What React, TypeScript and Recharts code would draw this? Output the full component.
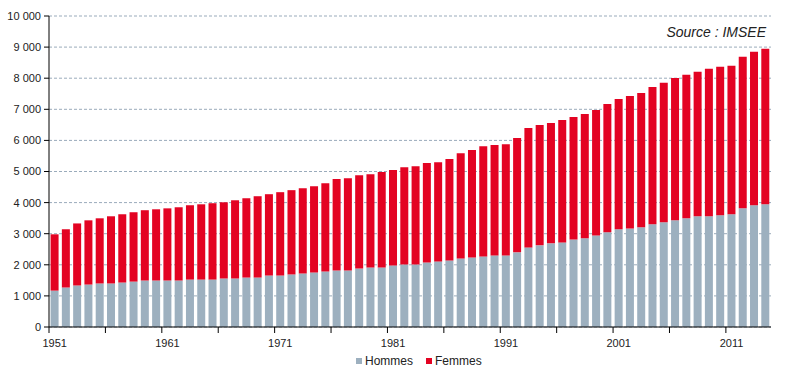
import { Bar, BarChart, CartesianGrid, Legend, XAxis, YAxis } from "recharts";

const years = [
  1951, 1952, 1953, 1954, 1955, 1956, 1957, 1958, 1959, 1960,
  1961, 1962, 1963, 1964, 1965, 1966, 1967, 1968, 1969, 1970,
  1971, 1972, 1973, 1974, 1975, 1976, 1977, 1978, 1979, 1980,
  1981, 1982, 1983, 1984, 1985, 1986, 1987, 1988, 1989, 1990,
  1991, 1992, 1993, 1994, 1995, 1996, 1997, 1998, 1999, 2000,
  2001, 2002, 2003, 2004, 2005, 2006, 2007, 2008, 2009, 2010,
  2011, 2012, 2013, 2014,
];

const hommes = [
  1170, 1270, 1335, 1365, 1400, 1400, 1430, 1460, 1495, 1495,
  1495, 1495, 1525, 1525, 1525, 1560, 1560, 1590, 1590, 1655,
  1655, 1690, 1720, 1755, 1785, 1815, 1815, 1880, 1915, 1915,
  1980, 2010, 2010, 2075, 2110, 2140, 2205, 2235, 2270, 2300,
  2300, 2400, 2560, 2625, 2690, 2720, 2815, 2850, 2945, 3045,
  3140, 3170, 3205, 3300, 3365, 3430, 3495, 3560, 3560, 3590,
  3625, 3815, 3915, 3945,
];

const femmes = [
  1810, 1870, 1995, 2065, 2095, 2160, 2195, 2230, 2260, 2290,
  2320, 2355, 2390, 2420, 2455, 2450, 2515, 2550, 2615, 2615,
  2680, 2710, 2740, 2770, 2840, 2940, 2970, 3000, 3000, 3065,
  3065, 3130, 3160, 3195, 3190, 3260, 3385, 3455, 3545, 3550,
  3580, 3675, 3840, 3870, 3870, 3935, 3940, 4000, 4035, 4125,
  4195, 4260, 4320, 4420, 4485, 4580, 4615, 4645, 4740, 4775,
  4775, 4875, 4935, 5000,
];

const yTicks = [0, 1000, 2000, 3000, 4000, 5000, 6000, 7000, 8000, 9000, 10000];
const tickYears = [1951, 1956, 1961, 1966, 1971, 1976, 1981, 1986, 1991, 1996, 2001, 2006, 2011];
const labelYears = [1951, 1961, 1971, 1981, 1991, 2001, 2011];

const data = years.map((year, i) => ({ year, hommes: hommes[i], femmes: femmes[i] }));

const FONT = "'Liberation Sans', Arial, sans-serif";
const GREY = "#9db0bf";
const RED = "#e30322";

const fmt = (v: number) => String(v).replace(/\B(?=(\d{3})+(?!\d))/g, " ");

// tick marks sit on the left edge of the band, labels at the band centre
function XTick(props: any) {
  const { x, y, payload, width, visibleTicksCount } = props;
  const year = payload.value;
  const half = payload.offset || width / (visibleTicksCount || years.length) / 2;
  return (
    <g>
      {tickYears.includes(year) && (
        <line x1={x - half} x2={x - half} y1={y} y2={y + 6} stroke="#000" strokeWidth={1} />
      )}
      {labelYears.includes(year) && (
        <text x={x} y={y + 20} textAnchor="middle" fontSize={11} fill="#222" fontFamily={FONT}>
          {year}
        </text>
      )}
    </g>
  );
}

function LegendContent() {
  const items = [
    { name: "Hommes", color: GREY },
    { name: "Femmes", color: RED },
  ];
  return (
    <div style={{ display: "flex", paddingLeft: 356, height: 16, alignItems: "center", fontFamily: FONT, fontSize: 12, color: "#222" }}>
      {items.map((it) => (
        <span key={it.name} style={{ display: "flex", alignItems: "center", marginRight: 13 }}>
          <span style={{ width: 6, height: 6, background: it.color, marginRight: 3 }} />
          {it.name}
        </span>
      ))}
    </div>
  );
}

export default function App() {
  return (
    <div style={{ position: "absolute", left: 0, top: 0, width: 786, height: 377, background: "#fff" }}>
      <BarChart
        width={786}
        height={377}
        data={data}
        margin={{ top: 16, right: 15, left: 0, bottom: 8 }}
        barCategoryGap="14%"
      >
        <CartesianGrid vertical={false} stroke="#9aabbb" strokeDasharray="3 2" />
        <XAxis
          dataKey="year"
          interval={0}
          tickLine={false}
          tickSize={0}
          tickMargin={0}
          height={26}
          axisLine={{ stroke: "#000" }}
          tick={<XTick />}
        />
        <YAxis
          domain={[0, 10000]}
          ticks={yTicks}
          tickFormatter={fmt}
          width={49}
          tickSize={5}
          tickMargin={3}
          axisLine={{ stroke: "#000" }}
          tickLine={{ stroke: "#000" }}
          tick={{ fill: "#222", fontSize: 11, fontFamily: FONT }}
        />
        <Legend verticalAlign="bottom" height={16} wrapperStyle={{ left: 0, width: 786 }} content={<LegendContent />} />
        <Bar dataKey="hommes" name="Hommes" stackId="a" fill={GREY} isAnimationActive={false} />
        <Bar dataKey="femmes" name="Femmes" stackId="a" fill={RED} isAnimationActive={false} />
        <text x={766} y={37} textAnchor="end" fontStyle="italic" fontSize={14} fill="#222" fontFamily={FONT}>
          Source : IMSEE
        </text>
      </BarChart>
    </div>
  );
}
